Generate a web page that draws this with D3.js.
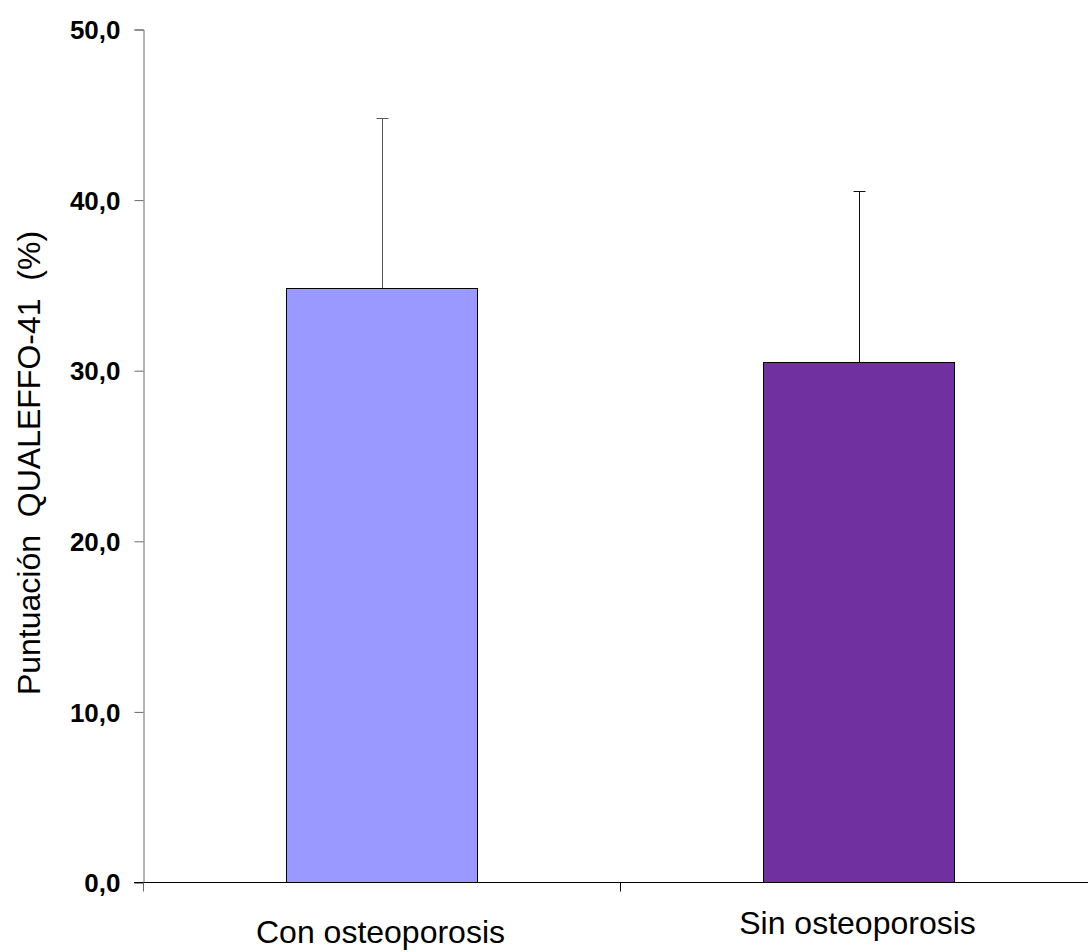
<!DOCTYPE html>
<html>
<head>
<meta charset="utf-8">
<script src="https://cdn.jsdelivr.net/npm/d3@7"></script>
<style>
  html, body { margin: 0; padding: 0; background: #fff; }
  svg { display: block; font-family: Arial, "Liberation Sans", sans-serif; }
  .tick-label { font-size: 26px; font-weight: bold; fill: #000; }
  .cat-label { font-size: 32px; fill: #000; }
  .y-title { font-size: 32px; fill: #000; white-space: pre; }
</style>
</head>
<body>
<div id="chart"></div>
<script>
// data
let categories = ['Con osteoporosis', 'Sin osteoporosis'];
let means = [34.8, 30.5];
let sds = [10.0, 10.0];
let barColors = ['#9999FF', '#7030A0'];
let yTicks = [0, 10, 20, 30, 40, 50];
let yTitle = 'Puntuación  QUALEFFO-41  (%)';

let width = 1088,
    height = 952;

let plot = { left: 143, right: 1097, top: 29, bottom: 882 };

let $svg = d3.select('#chart').append('svg')
  .attr('width', width)
  .attr('height', height);

let y = d3.scaleLinear()
  .domain([0, 50])
  .range([plot.bottom, plot.top]);

let x = d3.scaleBand()
  .domain(categories)
  .range([plot.left, plot.right])
  .padding(0);

let barW = x.bandwidth() * 0.4;
let fmt = d => d3.format('.1f')(d).replace('.', ',');

// bars
$svg.selectAll('.bar')
  .data(categories)
  .enter()
  .append('rect')
  .classed('bar', true)
  .attr('x', d => Math.round(x(d) + x.bandwidth() / 2 - barW / 2) + 0.5)
  .attr('y', (d, i) => Math.round(y(means[i])) + 0.5)
  .attr('width', Math.round(barW))
  .attr('height', (d, i) => Math.round(y(0)) - Math.round(y(means[i])))
  .attr('fill', (d, i) => barColors[i])
  .attr('stroke', '#000')
  .attr('stroke-width', 1);

// error bars (upper only)
let errColors = ['#555', '#111'];
let $err = $svg.selectAll('.err')
  .data(categories)
  .enter()
  .append('g')
  .classed('err', true)
  .attr('transform', d => `translate(${Math.round(x(d) + x.bandwidth() / 2) + 0.5},0)`);

$err.append('line')
  .attr('x1', 0).attr('x2', 0)
  .attr('y1', (d, i) => Math.round(y(means[i])))
  .attr('y2', (d, i) => Math.round(y(means[i] + sds[i])) + 0.5)
  .attr('stroke', (d, i) => errColors[i]);

$err.append('line')
  .attr('x1', -6).attr('x2', 6)
  .attr('y1', (d, i) => Math.round(y(means[i] + sds[i])) + 0.5)
  .attr('y2', (d, i) => Math.round(y(means[i] + sds[i])) + 0.5)
  .attr('stroke', (d, i) => errColors[i]);

// y axis
let yAxis = d3.axisLeft(y)
  .tickValues(yTicks)
  .tickSize(9)
  .tickPadding(14)
  .tickFormat(fmt);

let $yAxis = $svg.append('g')
  .attr('transform', `translate(${plot.left + 0.5},0.5)`)
  .call(yAxis);

$yAxis.attr('font-size', null).attr('font-family', null);
$yAxis.select('.domain').attr('stroke', '#6b6b6b');
$yAxis.selectAll('.tick line').attr('stroke', '#6b6b6b');
$yAxis.selectAll('.tick text')
  .attr('class', 'tick-label')
  .attr('dy', '0.35em');

// x axis with ticks at category boundaries
let $xAxis = $svg.append('g').attr('transform', 'translate(0,0.5)');

$xAxis.append('line')
  .attr('x1', plot.left - 9)
  .attr('x2', width)
  .attr('y1', y(0))
  .attr('y2', y(0))
  .attr('stroke', '#000');

let boundaries = categories.map(d => x(d)).concat([plot.right]);
$xAxis.selectAll('.xtick')
  .data(boundaries)
  .enter()
  .append('line')
  .classed('xtick', true)
  .attr('x1', d => Math.round(d) + 0.5)
  .attr('x2', d => Math.round(d) + 0.5)
  .attr('y1', y(0))
  .attr('y2', y(0) + 9)
  .attr('stroke', (d, i) => i === 0 ? '#6b6b6b' : '#000');

// category labels (second one sits a little higher, as in the original)
let labelBase = [943, 934];
$svg.selectAll('.cat-label')
  .data(categories)
  .enter()
  .append('text')
  .attr('class', 'cat-label')
  .attr('x', d => x(d) + x.bandwidth() / 2 - 1)
  .attr('y', (d, i) => labelBase[i])
  .attr('text-anchor', 'middle')
  .text(d => d);

// y title
$svg.append('text')
  .attr('class', 'y-title')
  .attr('transform', 'translate(40,463) rotate(-90)')
  .attr('text-anchor', 'middle')
  .text(yTitle);
</script>
</body>
</html>
